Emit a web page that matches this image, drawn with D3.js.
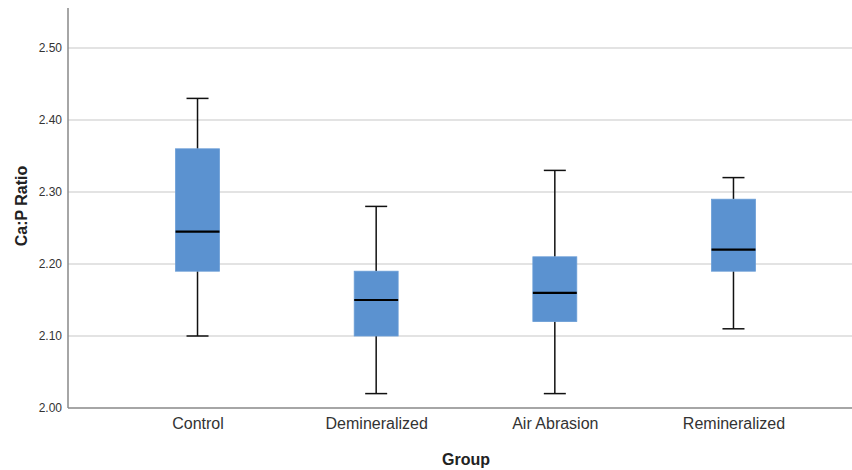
<!DOCTYPE html>
<html><head><meta charset="utf-8">
<script src="https://cdn.jsdelivr.net/npm/d3@7"></script>
<style>body{margin:0;background:#fff}svg{display:block}</style>
</head><body>
<script>
const categories = ["Control", "Demineralized", "Air Abrasion", "Remineralized"];
const whiskerLow = [2.10, 2.02, 2.02, 2.11];
const q1 = [2.19, 2.10, 2.12, 2.19];
const medians = [2.245, 2.15, 2.16, 2.22];
const q3 = [2.36, 2.19, 2.21, 2.29];
const whiskerHigh = [2.43, 2.28, 2.33, 2.32];
const yTicks = [2.00, 2.10, 2.20, 2.30, 2.40, 2.50];

const W = 852, H = 470;
const svg = d3.select("body").append("svg").attr("width", W).attr("height", H);
const font = "'Liberation Sans', Arial, sans-serif";

const y = d3.scaleLinear().domain([2.0, 2.5]).range([408, 48]);
const x = d3.scalePoint().domain(categories).range([68, 863]).padding(0.725);
const boxW = x.step() * 0.246;
const capW = 22;

// gridlines
svg.append("g").selectAll("line").data(yTicks.slice(1)).join("line")
  .attr("x1", 68).attr("x2", W).attr("y1", d => y(d)).attr("y2", d => y(d))
  .attr("stroke", "#c8c8c8").attr("stroke-width", 1.2);

// y axis
const yAxis = d3.axisLeft(y).tickValues(yTicks).tickFormat(d3.format(".2f")).tickSize(0).tickPadding(6);
const gy = svg.append("g").attr("transform", "translate(68,0)").call(yAxis);
gy.select(".domain").remove();
gy.selectAll("text").attr("font-family", font).attr("font-size", 12).attr("fill", "#333");
svg.append("line").attr("x1", 68).attr("x2", 68).attr("y1", 8).attr("y2", 408)
  .attr("stroke", "#888").attr("stroke-width", 1.5);

// x axis
const xAxis = d3.axisBottom(x).tickSize(0).tickPadding(10);
const gx = svg.append("g").attr("transform", "translate(0,408)").call(xAxis);
gx.select(".domain").remove();
gx.selectAll("text").attr("font-family", font).attr("font-size", 16).attr("fill", "#333");
svg.append("line").attr("x1", 68).attr("x2", W).attr("y1", 408).attr("y2", 408)
  .attr("stroke", "#888").attr("stroke-width", 1.5);

// boxes
const data = categories.map((c, i) => ({c, lo: whiskerLow[i], q1: q1[i], med: medians[i], q3: q3[i], hi: whiskerHigh[i]}));
const g = svg.append("g").selectAll("g").data(data).join("g");
g.append("line").attr("x1", d => x(d.c)).attr("x2", d => x(d.c))
  .attr("y1", d => y(d.hi)).attr("y2", d => y(d.q3)).attr("stroke", "#111").attr("stroke-width", 1.5);
g.append("line").attr("x1", d => x(d.c)).attr("x2", d => x(d.c))
  .attr("y1", d => y(d.q1)).attr("y2", d => y(d.lo)).attr("stroke", "#111").attr("stroke-width", 1.5);
g.append("line").attr("x1", d => x(d.c) - capW/2).attr("x2", d => x(d.c) + capW/2)
  .attr("y1", d => y(d.hi)).attr("y2", d => y(d.hi)).attr("stroke", "#111").attr("stroke-width", 1.5);
g.append("line").attr("x1", d => x(d.c) - capW/2).attr("x2", d => x(d.c) + capW/2)
  .attr("y1", d => y(d.lo)).attr("y2", d => y(d.lo)).attr("stroke", "#111").attr("stroke-width", 1.5);
g.append("rect").attr("x", d => x(d.c) - boxW/2).attr("width", boxW)
  .attr("y", d => y(d.q3)).attr("height", d => y(d.q1) - y(d.q3))
  .attr("fill", "#5b92d0").attr("stroke", "#6a9dd6").attr("stroke-width", 0.8);
g.append("line").attr("x1", d => x(d.c) - boxW/2).attr("x2", d => x(d.c) + boxW/2)
  .attr("y1", d => y(d.med)).attr("y2", d => y(d.med)).attr("stroke", "#000").attr("stroke-width", 2.2);

// titles
svg.append("text").attr("x", 466).attr("y", 465).attr("text-anchor", "middle")
  .attr("font-family", font).attr("font-weight", "bold").attr("font-size", 16).attr("fill", "#222").text("Group");
svg.append("text").attr("transform", "translate(27,206) rotate(-90)").attr("text-anchor", "middle")
  .attr("font-family", font).attr("font-weight", "bold").attr("font-size", 16).attr("fill", "#222").text("Ca:P Ratio");
</script>
</body></html>
